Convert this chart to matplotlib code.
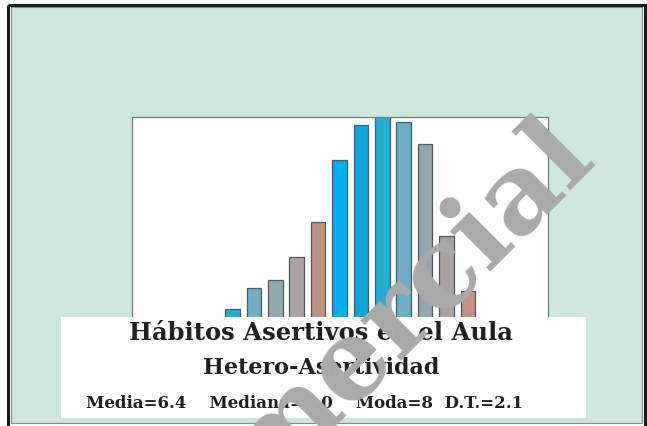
import matplotlib.pyplot as plt
from matplotlib.patches import Rectangle

# scores and bar heights (baseline hidden under text box)
scores = [1, 2, 3, 4, 5, 6, 7, 8, 9, 10, 11, 12]
freq = [107, 128, 136, 159, 194, 256, 291, 301, 294, 272, 180, 125]
bar_colors = ['#27acd5', '#6faec6', '#93a7af', '#aba3a1', '#be9283',
              '#00aeef', '#00a9dc', '#23aed4', '#6cadc6', '#91a6ae',
              '#aaa2a0', '#bf9283']

title = 'Hábitos Asertivos en el Aula'
subtitle = 'Hetero-Asertividad'
stats = 'Media=6.4    Mediana=7.0    Moda=8  D.T.=2.1'
W, H = 647, 426

fig = plt.figure(figsize=(W / 100, H / 100), dpi=100)
fig.patch.set_facecolor('white')

# background panel, pixel coords
bg = fig.add_axes([0, 0, 1, 1], zorder=0)
bg.set_xlim(0, W)
bg.set_ylim(H, 0)
bg.axis('off')
bg.add_patch(Rectangle((7.5, 4.5), 637, 430, fc='none', ec='#1a1a1a', lw=2.2))
bg.add_patch(Rectangle((10.5, 6.5), 631, 416, fc='#cde7dd', ec='#7f8f88', lw=0.8))

# bar plot
def px(x0, y0, x1, y1):
    return [x0 / W, 1 - y1 / H, (x1 - x0) / W, (y1 - y0) / H]

ax = fig.add_axes(px(131.5, 116.5, 548, 416), zorder=1)
ax.set_facecolor('white')
ax.bar(scores, freq, width=0.68, color=bar_colors, edgecolor='#4f5a5e', linewidth=0.9)
ax.set_xlim(-3.72, 15.74)
ax.set_ylim(0, 299)
ax.set_xticks([])
ax.set_yticks([])
for s in ax.spines.values():
    s.set_color('#6e7f78')
    s.set_linewidth(0.9)

# text box + watermark on top
top = fig.add_axes([0, 0, 1, 1], zorder=2)
top.set_xlim(0, W)
top.set_ylim(H, 0)
top.axis('off')
top.patch.set_alpha(0)
top.add_patch(Rectangle((61, 317), 525, 101, fc='white', ec='none'))
cx = 321
top.text(cx, 333, title, ha='center', va='center', family='DejaVu Serif',
         weight='bold', fontsize=17.5, color='#231f20')
top.text(cx, 368, subtitle, ha='center', va='center', family='DejaVu Serif',
         weight='bold', fontsize=16, color='#231f20')
top.text(305, 403, stats, ha='center', va='center', family='DejaVu Serif',
         weight='bold', fontsize=12, color='#231f20')

top.text(352, 362, 'Comercial', ha='center', va='center', rotation=45,
         family='DejaVu Serif', weight='bold', fontsize=80, color='#aaaaaa',
         clip_on=True)

fig.savefig('out.png', dpi=100)
